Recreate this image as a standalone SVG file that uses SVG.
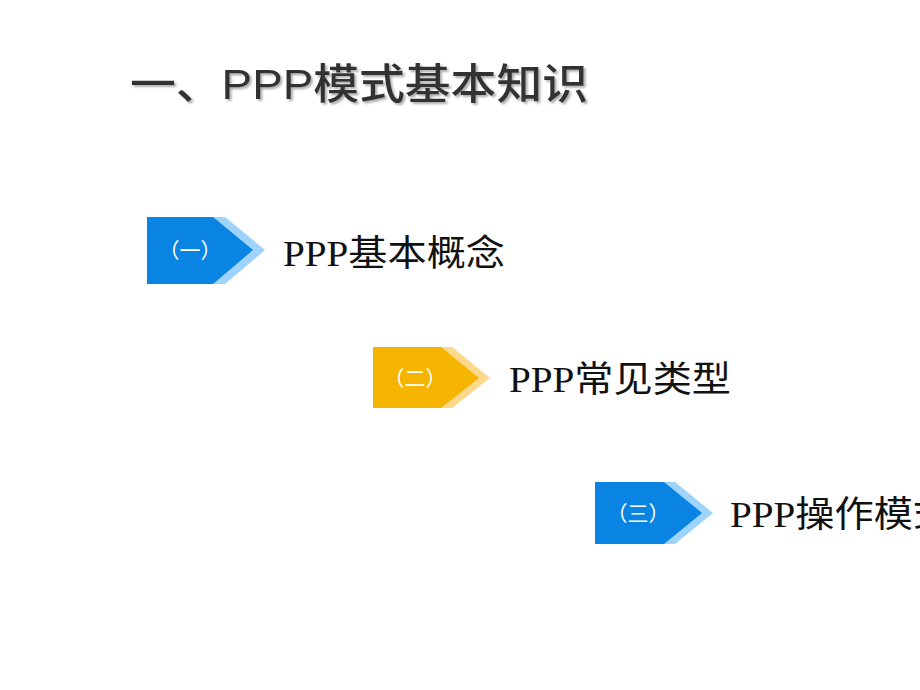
<svg xmlns="http://www.w3.org/2000/svg" width="920" height="690" viewBox="0 0 920 690">
<defs>
<filter id="sh" x="-5%" y="-20%" width="110%" height="150%"><feDropShadow dx="2" dy="2" stdDeviation="0.8" flood-color="#999" flood-opacity="0.8"/></filter>
</defs>
<style>
.t{font-family:"Liberation Serif","Noto Sans CJK SC",serif;font-size:36px;fill:#111}
.n{font-family:"Noto Sans CJK SC",sans-serif;font-size:21px;fill:#fff}
.bl{fill:#0a84e2}.bll{fill:#9ed3fb}.yl{fill:#f5b400}.yll{fill:#fcd98a}
</style>
<rect width="920" height="690" fill="#fff"/>
<g id="title">
<text x="130" y="99" fill="#333" filter="url(#sh)" font-family="'Liberation Sans','Noto Sans CJK SC',sans-serif" font-size="42" font-weight="500" textLength="458" lengthAdjust="spacingAndGlyphs">一、PPP模式基本知识</text>
</g>
<g id="item1">
<polygon class="bll" points="147,217 225,217 265,250 225,284 147,284"/>
<polygon class="bl" points="147,217 213,217 253,250 213,284 147,284"/>
<text class="n" x="190" y="258" text-anchor="middle">（一）</text>
<text class="t" x="283" y="266" textLength="222" lengthAdjust="spacingAndGlyphs">PPP基本概念</text>
</g>
<g id="item2">
<polygon class="yll" points="373,347 452,347 490,378 452,408 373,408"/>
<polygon class="yl" points="373,347 441,347 479,378 441,408 373,408"/>
<text class="n" x="415" y="386" text-anchor="middle">（二）</text>
<text class="t" x="509" y="392" textLength="222" lengthAdjust="spacingAndGlyphs">PPP常见类型</text>
</g>
<g id="item3">
<polygon class="bll" points="595,482 675,482 713,513 675,544 595,544"/>
<polygon class="bl" points="595,482 664,482 702,513 664,544 595,544"/>
<text class="n" x="638" y="521" text-anchor="middle">（三）</text>
<text class="t" x="730" y="527" textLength="222" lengthAdjust="spacingAndGlyphs">PPP操作模式</text>
</g>
</svg>
